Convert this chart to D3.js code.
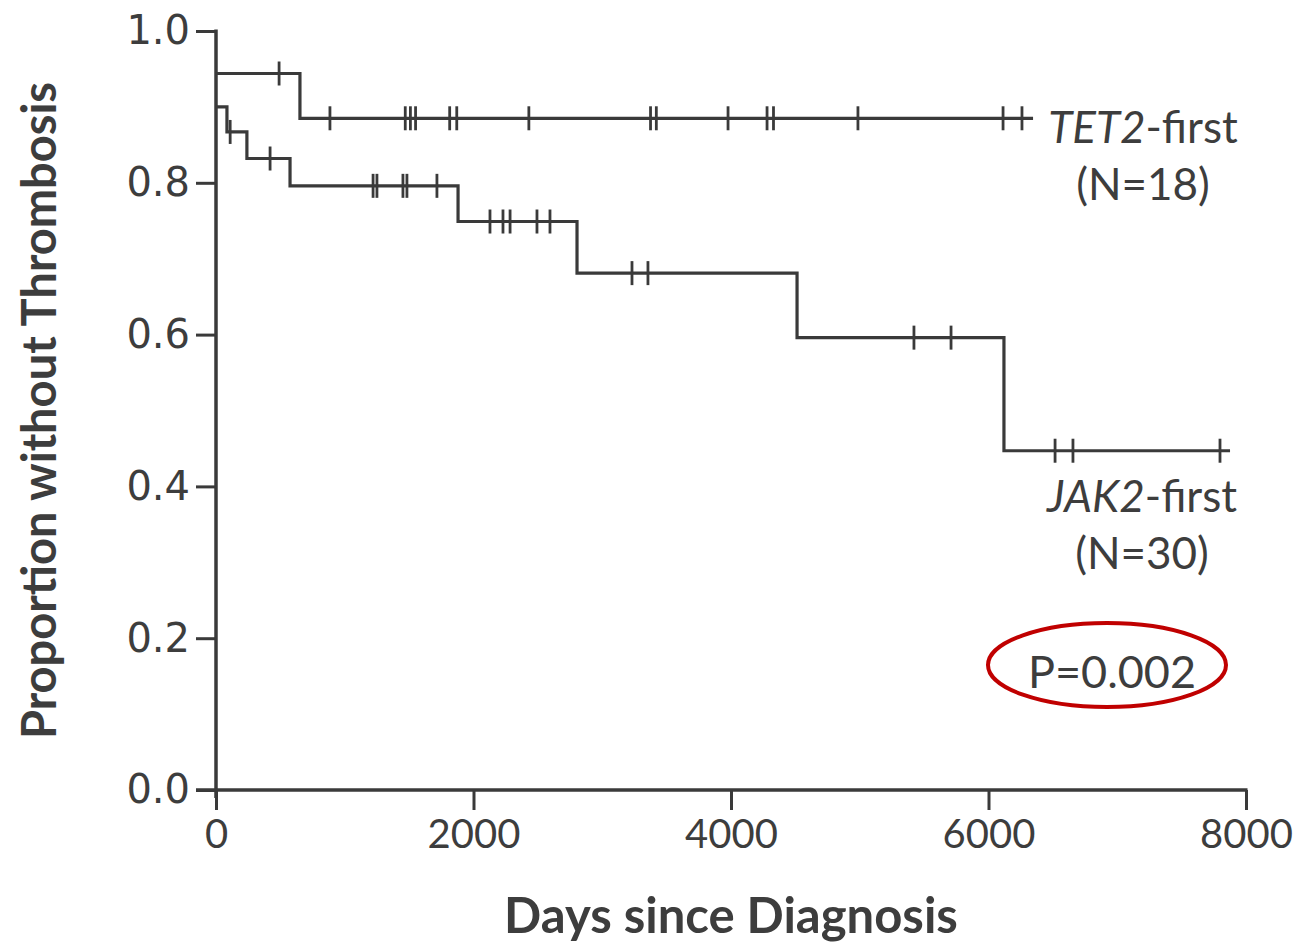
<!doctype html>
<html lang="en">
<head>
  <meta charset="utf-8">
  <title>Proportion without Thrombosis</title>
  <script src="https://cdnjs.cloudflare.com/ajax/libs/d3/7.8.5/d3.min.js"></script>
  <style>
    body { margin: 0; background: #fff; }
    svg text { fill: #3d3d3d; }
  </style>
</head>
<body>
<script>
  // values
  const xTicks = [0, 2000, 4000, 6000, 8000]
  const yTicks = [0, 0.2, 0.4, 0.6, 0.8, 1.0]

  // TET2-first: start level, steps (day, new level), censored days, end of line
  const tet2Start = 0.944
  const tet2Steps = [[652, 0.885]]
  const tet2Censor = [490, 885, 1470, 1510, 1550, 1815, 1870, 2430, 3375, 3420, 3977, 4280, 4330, 4986, 6113, 6260]
  const tet2End = 6346

  // JAK2-first
  const jak2Start = 0.9
  const jak2Steps = [[85, 0.867], [240, 0.832], [575, 0.796], [1880, 0.749], [2804, 0.681], [4513, 0.596], [6120, 0.447]]
  const jak2Censor = [110, 420, 1220, 1250, 1452, 1483, 1716, 2128, 2229, 2284, 2493, 2594, 3231, 3355, 5421, 5709, 6517, 6656, 7798]
  const jak2End = 7876

  const W = 1302, H = 949
  const margin = { left: 216, right: 56, top: 31, bottom: 159 }

  let svg = d3.select("body").append("svg")
    .attr("width", W)
    .attr("height", H)

  let x = d3.scaleLinear().domain([0, 8000]).range([margin.left, W - margin.right])
  let y = d3.scaleLinear().domain([0, 1]).range([H - margin.bottom, margin.top])

  const ink = "#3a3a3a"

  // axes
  let yAxis = svg.append("g")
    .attr("transform", `translate(${margin.left},0)`)
    .call(d3.axisLeft(y).tickValues(yTicks).tickFormat(d3.format(".1f")).tickSize(20).tickSizeOuter(0).tickPadding(6))
  yAxis.select(".domain").remove()
  yAxis.selectAll(".tick line").attr("stroke", ink).attr("stroke-width", 3)
  yAxis.selectAll(".tick text")
    .attr("font-family", "DejaVu Sans")
    .attr("font-size", 40)
    .attr("fill", "#444")

  let xAxis = svg.append("g")
    .attr("transform", `translate(0,${y(0)})`)
    .call(d3.axisBottom(x).tickValues(xTicks).tickFormat(d3.format("d")).tickSize(20).tickSizeOuter(0).tickPadding(10))
  xAxis.select(".domain").remove()
  xAxis.selectAll(".tick line").attr("stroke", ink).attr("stroke-width", 3)
  xAxis.selectAll(".tick text")
    .attr("font-family", "Lato")
    .attr("font-size", 40)
    .attr("fill", "#444")

  // axis lines
  svg.append("line")
    .attr("x1", x(0)).attr("x2", x(0))
    .attr("y1", y(1) - 1.5).attr("y2", y(0) + 8)
    .attr("stroke", ink).attr("stroke-width", 3.5)
  svg.append("line")
    .attr("x1", x(0) - 20).attr("x2", x(8000) + 1.5)
    .attr("y1", y(0)).attr("y2", y(0))
    .attr("stroke", ink).attr("stroke-width", 3.5)

  // curves
  let line = d3.line()
    .x(d => x(d[0]))
    .y(d => y(d[1]))
    .curve(d3.curveStepAfter)

  function drawCurve(start, steps, censor, end) {
    let pts = [[0, start]].concat(steps)
    pts.push([end, pts[pts.length - 1][1]])
    svg.append("path")
      .attr("d", line(pts))
      .attr("fill", "none")
      .attr("stroke", ink)
      .attr("stroke-width", 3.2)

    let levelAt = t => {
      let v = start
      steps.forEach(s => { if (s[0] <= t) v = s[1] })
      return v
    }
    svg.append("g").selectAll("line")
      .data(censor)
      .enter()
      .append("line")
      .attr("x1", d => x(d)).attr("x2", d => x(d))
      .attr("y1", d => y(levelAt(d)) - 12)
      .attr("y2", d => y(levelAt(d)) + 12)
      .attr("stroke", ink)
      .attr("stroke-width", 2.8)
  }

  drawCurve(tet2Start, tet2Steps, tet2Censor, tet2End)
  drawCurve(jak2Start, jak2Steps, jak2Censor, jak2End)

  // labels
  function groupLabel(name, n, cx, baseY) {
    let t = svg.append("text")
      .attr("x", cx).attr("y", baseY)
      .attr("text-anchor", "middle")
      .attr("font-family", "Lato")
      .attr("font-size", 44)
    t.append("tspan").attr("font-style", "italic").text(name)
    t.append("tspan").text("-first")
    svg.append("text")
      .attr("x", cx).attr("y", baseY + 57)
      .attr("text-anchor", "middle")
      .attr("font-family", "Lato")
      .attr("font-size", 44)
      .text(`(N=${n})`)
  }
  groupLabel("TET2", 18, 1143, 143)
  groupLabel("JAK2", 30, 1142, 512)

  svg.append("text")
    .attr("x", 1112).attr("y", 688)
    .attr("text-anchor", "middle")
    .attr("font-family", "Lato")
    .attr("font-size", 45)
    .text("P=0.002")

  svg.append("ellipse")
    .attr("cx", 1107).attr("cy", 665)
    .attr("rx", 119).attr("ry", 42)
    .attr("fill", "none")
    .attr("stroke", "#c00000")
    .attr("stroke-width", 4)

  // axis titles
  svg.append("text")
    .attr("x", (x(0) + x(8000)) / 2).attr("y", 933)
    .attr("text-anchor", "middle")
    .attr("font-family", "Lato")
    .attr("font-weight", "bold")
    .attr("font-size", 49)
    .attr("fill", "#333")
    .text("Days since Diagnosis")

  svg.append("text")
    .attr("transform", `translate(56,${(y(0) + y(1)) / 2}) rotate(-90)`)
    .attr("text-anchor", "middle")
    .attr("font-family", "Lato")
    .attr("font-weight", "bold")
    .attr("font-size", 47)
    .attr("fill", "#333")
    .text("Proportion without Thrombosis")
</script>
</body>
</html>
